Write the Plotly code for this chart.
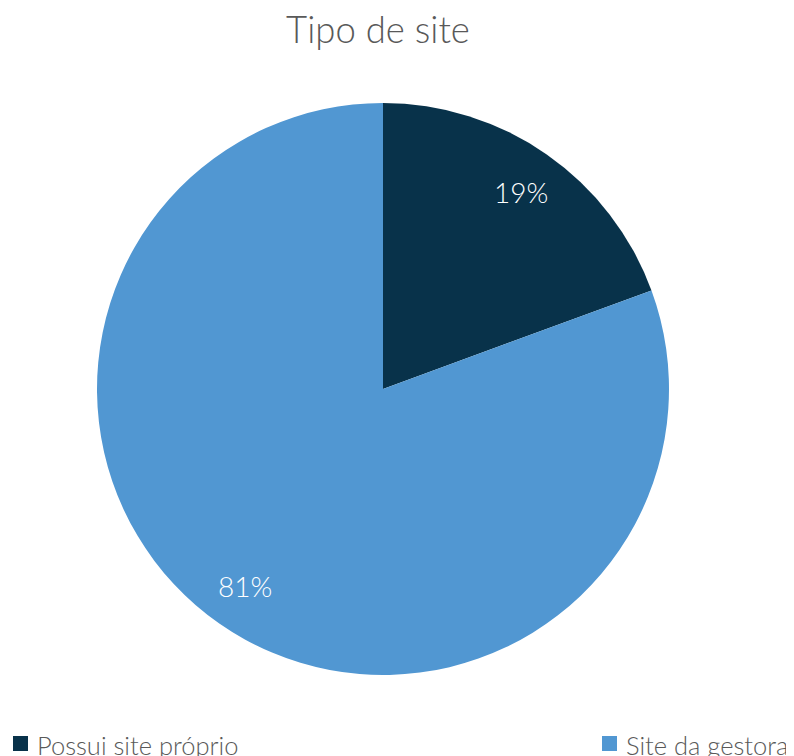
import math
import plotly.graph_objects as go

categorias = ["Possui site próprio", "Site da gestora"]
percentuais = [19.4, 80.6]
cores = ["#08324A", "#5197D2"]

W, H = 794, 756
ML, MR, MT, MB = 89, 133, 95, 89
PW, PH = W - ML - MR, H - MT - MB
OFF = 8  # margem do <body> na página


def px(x):
    return (x - OFF - ML) / PW


def py(y):
    return (H - MB - (y - OFF)) / PH


fig = go.Figure(
    go.Pie(
        labels=categorias,
        values=percentuais,
        sort=False,
        direction="clockwise",
        rotation=0,
        marker=dict(colors=cores, line=dict(width=0)),
        textinfo="none",
        hoverinfo="label+percent",
        showlegend=False,
        domain=dict(x=[0, 1], y=[0, 1]),
    )
)

# rótulos de percentual na bissetriz de cada fatia
total = sum(percentuais)
inicio = 0
for v in percentuais:
    meio = (inicio + v / 2) / total * 2 * math.pi
    inicio += v
    fig.add_annotation(
        x=0.5 + 0.5 * 0.84 * math.sin(meio),
        y=0.5 + 0.5 * 0.84 * math.cos(meio),
        xref="paper",
        yref="paper",
        xanchor="center",
        yanchor="middle",
        text=f"{v / total:.0%}",
        showarrow=False,
        font=dict(family="Lato", size=28, color="white", weight=300),
    )

# legenda: um item à esquerda e outro à direita
legenda_x = [13, 602]
for cat, cor, lx in zip(categorias, cores, legenda_x):
    fig.add_shape(
        type="rect",
        xref="paper",
        yref="paper",
        x0=px(lx),
        x1=px(lx + 15),
        y0=py(736),
        y1=py(751),
        fillcolor=cor,
        line=dict(width=0),
    )
    fig.add_annotation(
        x=px(lx + 22),
        y=py(745),
        xref="paper",
        yref="paper",
        xanchor="left",
        yanchor="middle",
        text=cat,
        showarrow=False,
        font=dict(family="Lato", size=25.5, color="#595959", weight=300),
    )

fig.update_layout(
    width=W,
    height=H,
    margin=dict(l=ML, r=MR, t=MT, b=MB),
    paper_bgcolor="white",
    font=dict(family="Lato", color="#595959"),
    title=dict(
        text="Tipo de site",
        x=0.466,
        xanchor="center",
        xref="container",
        y=0.97,
        yanchor="middle",
        yref="container",
        font=dict(family="Lato", size=36.5, color="#595959", weight=300),
    ),
)

fig.write_html("out.html")
